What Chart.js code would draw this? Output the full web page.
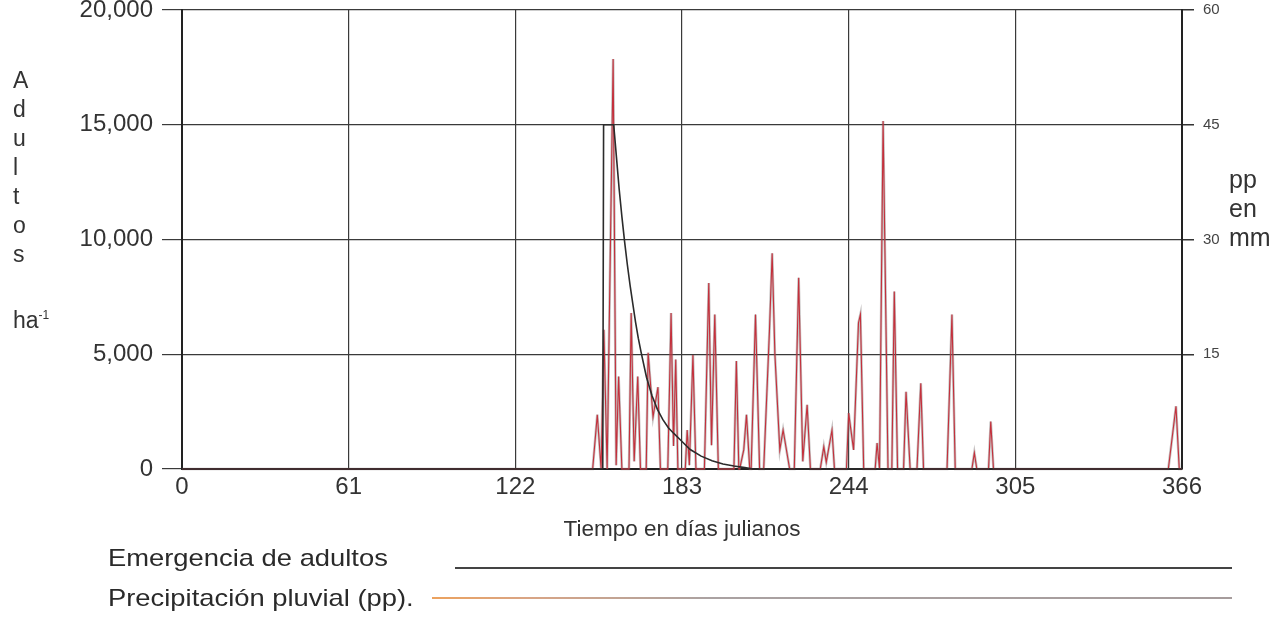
<!DOCTYPE html>
<html>
<head>
<meta charset="utf-8">
<script src="https://cdn.jsdelivr.net/npm/chart.js@4/dist/chart.umd.min.js"></script>
<style>
html,body{margin:0;padding:0;background:#fff;}
#wrap{position:relative;width:1285px;height:620px;overflow:hidden;font-family:"Liberation Sans",Arial,sans-serif;color:#333;}
canvas{position:absolute;left:0;top:0;}
.t{position:absolute;white-space:nowrap;}
.leg{font-size:24px;line-height:24px;transform:scaleX(1.14);transform-origin:0 0;color:#2a2a2a;}
</style>
</head>
<body>
<div id="wrap">
  <canvas id="c" width="1285" height="620"></canvas>
  <div class="t" style="left:13px;top:66px;font-size:23px;line-height:29px;">A<br>d<br>u<br>l<br>t<br>o<br>s</div>
  <div class="t" style="left:13px;top:309px;font-size:23px;line-height:23px;">ha<sup style="font-size:12px;line-height:0;vertical-align:9px;">-1</sup></div>
  <div class="t" style="left:1229px;top:165px;font-size:25px;line-height:29px;">pp<br>en<br>mm</div>
  <div class="t leg" style="left:108px;top:546px;">Emergencia de adultos</div>
  <div class="t leg" style="left:108px;top:586px;">Precipitación pluvial (pp).</div>
  <div style="position:absolute;left:455px;top:567px;width:777px;height:2px;background:#444;"></div>
  <div style="position:absolute;left:432px;top:597px;width:800px;height:2px;background:linear-gradient(to right,#eca25e 0%,#d9a585 12%,#aaa2a2 35%,#a69c9c 100%);"></div>
</div>
<script>
// Tick labels
const dayTicks = [0, 61, 122, 183, 244, 305, 366];
const adultTicks = [0, 5000, 10000, 15000, 20000];
const ppTicks = [15, 30, 45, 60];

// Emergencia de adultos (adultos ha-1) by Julian day
const eDays = [0, 154, 154.3, 158, 159, 160, 161, 162, 163, 164, 165, 166, 167, 168, 170, 172, 174, 176, 178, 180, 183, 186, 190, 194, 198, 202, 206, 209, 366];
const eValues = [0, 0, 15000, 15000, 13600, 12200, 11000, 9900, 8900, 8000, 7200, 6400, 5700, 5100, 4000, 3200, 2600, 2150, 1800, 1550, 1200, 850, 560, 360, 220, 130, 60, 0, 0];

// Precipitación pluvial (mm) by Julian day
const pDays = [0, 150.3, 152.0, 153.4, 154.4, 155.6, 157.8, 158.9, 159.8, 161.0,
  163.6, 164.4, 165.5, 166.8, 167.8, 169.9, 170.6, 172.4, 174.2, 175.1,
  177.8, 179.0, 179.9, 180.7, 181.5, 184.2, 184.9, 185.7, 187.0, 188.1,
  191.2, 192.8, 193.8, 195.0, 196.3, 202.0, 202.9, 203.8, 204.1, 205.6, 206.6, 207.8,
  208.3, 209.9, 211.4, 212.9, 215.0, 216.0, 217.0, 218.8, 220.0, 222.4,
  224.1, 225.7, 227.2, 228.8, 230.0, 233.6, 234.9, 235.8, 237.9, 238.8,
  243.2, 244.0, 245.8, 247.6, 248.3, 249.5, 253.7, 254.4, 255.3, 256.6, 258.4,
  259.8, 260.7, 261.9, 264.1, 265.0, 266.5, 269.0, 270.4, 271.4, 280.0, 281.8, 283.0,
  289.1, 290.0, 290.9, 295.2, 296.0, 297.0, 361.0, 363.8, 365.0, 366];
const pValues = [0, 0, 7.1, 0, 18.2, 0, 53.6, 0.5, 12.1, 0,
  0, 20.4, 1, 12.1, 0, 0, 15.2, 6.8, 10.7, 0,
  0, 20.4, 3, 14.3, 0, 0, 5.1, 0.5, 14.9, 0,
  0, 24.3, 3.1, 20.2, 0, 0, 14.1, 0, 0, 2.5, 7.1, 0,
  0, 20.2, 0, 0, 18, 28.2, 15, 2.5, 5.1, 0,
  0, 25, 1, 8.4, 0, 0, 2.9, 0.9, 5.1, 0,
  0, 7.3, 2.5, 19.1, 20.2, 0, 0, 3.4, 0, 45.5, 0,
  0, 23.2, 0, 0, 10.1, 0, 0, 11.2, 0, 0, 20.2, 0,
  0, 2.1, 0, 0, 6.2, 0, 0, 8.2, 0, 0];

const toXY = (xs, ys) => xs.map((x, i) => ({x: x, y: ys[i]}));
const setTicks = arr => scale => { scale.ticks = arr.map(v => ({value: v})); };
const FONT = '"Liberation Sans", Arial, sans-serif';

new Chart(document.getElementById('c'), {
  type: 'line',
  data: {
    datasets: [
      {label: 'Emergencia de adultos', data: toXY(eDays, eValues), yAxisID: 'y',
       borderColor: '#2b2b2b', borderWidth: 1.6, pointRadius: 0, tension: 0, clip: 4, order: 0},
      {label: 'Precipitación pluvial (pp)', data: toXY(pDays, pValues), yAxisID: 'y1',
       borderColor: '#c4303c', borderWidth: 1.1, pointRadius: 0, tension: 0, clip: 4, order: 1},
      {label: 'pp', data: toXY(pDays, pValues), yAxisID: 'y1',
       borderColor: 'rgba(110,100,100,0.4)', borderWidth: 2.6, pointRadius: 0, tension: 0, clip: 4, order: 2}
    ]
  },
  options: {
    responsive: false,
    animation: false,
    devicePixelRatio: 1,
    layout: {padding: {top: 10, bottom: 72, left: 0, right: 0}},
    plugins: {legend: {display: false}, tooltip: {enabled: false}},
    scales: {
      x: {
        type: 'linear', min: 0, max: 366,
        afterBuildTicks: setTicks(dayTicks),
        afterFit: s => { s.height = 79; },
        ticks: {font: {family: FONT, size: 24}, color: '#333', padding: 4, maxRotation: 0, autoSkip: false,
                callback: v => String(v)},
        grid: {color: '#3a3a3a', lineWidth: 1.2, drawTicks: false},
        border: {color: '#222', width: 2},
        title: {display: true, text: 'Tiempo en días julianos', color: '#333',
                font: {family: FONT, size: 22.5}, padding: {top: 0, bottom: 5}}
      },
      y: {
        position: 'left', min: 0, max: 20000,
        afterBuildTicks: setTicks(adultTicks),
        afterFit: s => { s.width = 182; },
        ticks: {font: {family: FONT, size: 24, lineHeight: 0.05}, color: '#333', padding: 9,
                callback: v => v.toLocaleString('en-US')},
        grid: {color: '#3a3a3a', lineWidth: 1.2, tickLength: 20},
        border: {color: '#222', width: 2}
      },
      y1: {
        position: 'right', min: 0, max: 60,
        afterBuildTicks: setTicks(ppTicks),
        afterFit: s => { s.width = 103; },
        ticks: {font: {family: FONT, size: 15, lineHeight: 0.05}, color: '#444', padding: 9},
        grid: {drawOnChartArea: false, color: '#333', lineWidth: 1.5, tickLength: 12},
        border: {color: '#222', width: 2}
      }
    }
  }
});
</script>
</body>
</html>
